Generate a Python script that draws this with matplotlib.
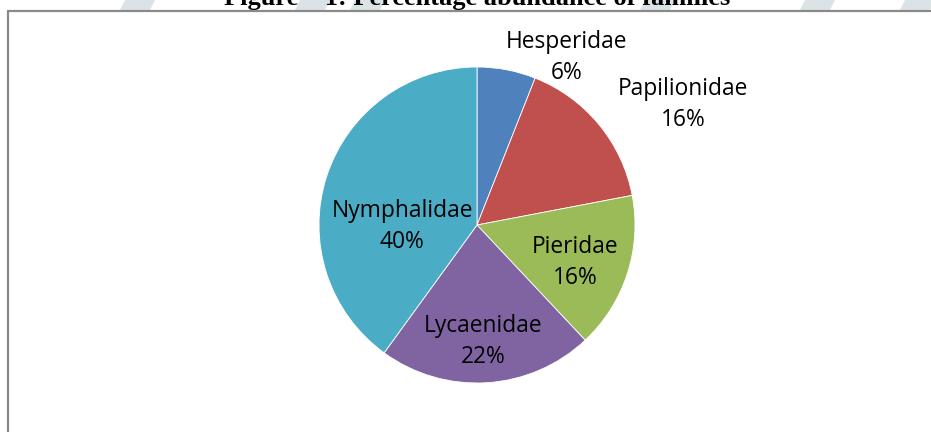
"""
Pie chart: percentage abundance of butterfly families.
Saves out.png.
"""
import matplotlib.pyplot as plt
from matplotlib.patches import Rectangle, Polygon

families = ['Hesperidae', 'Papilionidae', 'Pieridae', 'Lycaenidae', 'Nymphalidae']
percent = [6, 16, 16, 22, 40]
colors = ['#4F81BD', '#C0504D', '#9BBB59', '#8064A2', '#4BACC6']
title = 'Figure – 1: Percentage abundance of families'

# label line-1 baseline positions in pixels (x centre, y from top)
label_pos = [(567, 48), (683, 95), (575, 253), (483, 332), (402, 217)]

W, H = 931, 432


def draw():
    fig = plt.figure(figsize=(W / 100, H / 100), dpi=100)
    ax = fig.add_axes([0, 0, 1, 1])
    ax.set_xlim(0, W)
    ax.set_ylim(0, H)
    ax.set_aspect('equal')
    ax.axis('off')

    # faint watermark strips showing above the chart box
    for x0 in [125, 300, 355, 645, 805, 905]:
        ax.add_patch(Polygon([(x0, H), (x0 + 30, H), (x0 + 24, H - 12), (x0 - 6, H - 12)],
                             closed=True, color='#dce3e6', lw=0, zorder=0))

    # chart box
    ax.add_patch(Rectangle((8, -10), W + 20, H - 11 + 10, facecolor='white',
                           edgecolor='#8a8a8a', lw=1.6, zorder=1))

    ax.text(477, H - 5, title, ha='center', va='baseline', fontsize=19,
            fontweight='bold', family='Liberation Serif', zorder=2)

    ax.pie(percent, colors=colors, startangle=90, counterclock=False,
           center=(477, H - 225), radius=158, frame=True,
           wedgeprops=dict(edgecolor='white', linewidth=0.6, zorder=3))
    ax.set_xlim(0, W)
    ax.set_ylim(0, H)
    ax.axis('off')

    for name, p, (x, y) in zip(families, percent, label_pos):
        ax.text(x, H - y, name, ha='center', va='baseline', fontsize=16.4,
                family='Open Sans', zorder=5)
        ax.text(x, H - y - 31, f'{p}%', ha='center', va='baseline', fontsize=16.4,
                family='Open Sans', zorder=5)

    fig.savefig('out.png', dpi=100)
    plt.close(fig)


if __name__ == '__main__':
    draw()
